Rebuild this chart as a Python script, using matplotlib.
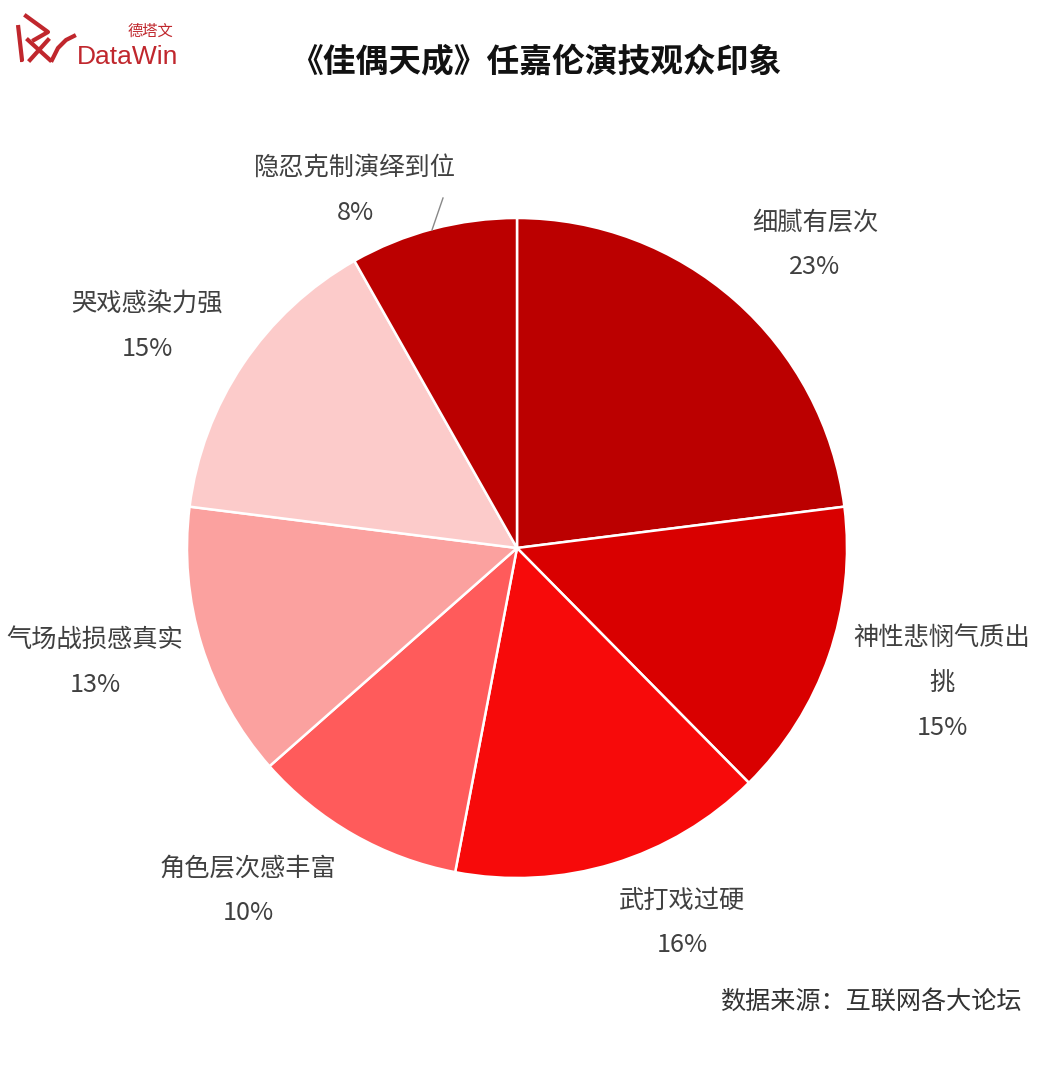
import matplotlib.pyplot as plt

plt.rcParams["font.family"] = ["Noto Sans CJK SC", "DejaVu Sans"]

# 数据
labels = ["细腻有层次", "神性悲悯气质出\n挑", "武打戏过硬", "角色层次感丰富",
          "气场战损感真实", "哭戏感染力强", "隐忍克制演绎到位"]
shares = [23.0, 14.6, 15.4, 10.5, 13.5, 14.8, 8.2]   # 扇区实际比例
pct_text = [23, 15, 16, 10, 13, 15, 8]                # 图中标注的百分比
colors = ["#BB0000", "#D90000", "#F70A0A", "#FF5B5B", "#FBA19F", "#FCCBCA", "#BB0000"]

# 标签位置（像素坐标）
label_pos = [(815, 245), (942, 683), (682, 923), (248, 891),
             (95, 662), (147, 327), (355, 190)]

W, H = 1038, 1066
fig = plt.figure(figsize=(W / 100, H / 100), dpi=100)
ax = fig.add_axes([0, 0, 1, 1])

cx, cy, r = 517, 548, 330
# y轴翻转后，逆时针方向在屏幕上表现为顺时针
ax.pie(shares, colors=colors, center=(cx, cy), radius=r, startangle=-90,
       counterclock=True, wedgeprops=dict(edgecolor="white", linewidth=1.8),
       frame=True)
ax.set_xlim(0, W)
ax.set_ylim(H, 0)
ax.set_aspect("equal")
ax.axis("off")

for lab, val, (x, y) in zip(labels, pct_text, label_pos):
    ax.text(x, y, f"{lab}\n{val}%", ha="center", va="center", fontsize=18.2,
            color="#404040", linespacing=1.95)

# 引导线
ax.plot([443, 432], [198, 230], color="#888888", lw=1)

# 标题
ax.text(536, 62, "《佳偶天成》任嘉伦演技观众印象", ha="center", va="center",
        fontsize=23.6, fontweight="bold", color="#111111")

# 数据来源
ax.text(1022, 1002, "数据来源：互联网各大论坛", ha="right", va="center",
        fontsize=18.1, color="#333333")

# logo
red = "#C0272D"
ax.plot([18, 22, 20], [25, 60, 60], color=red, lw=3, solid_capstyle="butt")
ax.plot([26, 48, 34], [16, 32, 40], color=red, lw=3)
ax.plot([28, 50], [40, 60], color=red, lw=3)
ax.plot([48, 30], [40, 60], color=red, lw=3)
ax.plot([52, 58, 66, 74], [60, 48, 40, 36], color=red, lw=3)
ax.text(77, 64, "DataWin", ha="left", va="baseline", fontsize=19,
        family="Liberation Sans", color=red)
ax.text(150, 31, "德塔文", ha="center", va="center", fontsize=11, color=red)

fig.savefig("out.png", dpi=100, facecolor="white")
